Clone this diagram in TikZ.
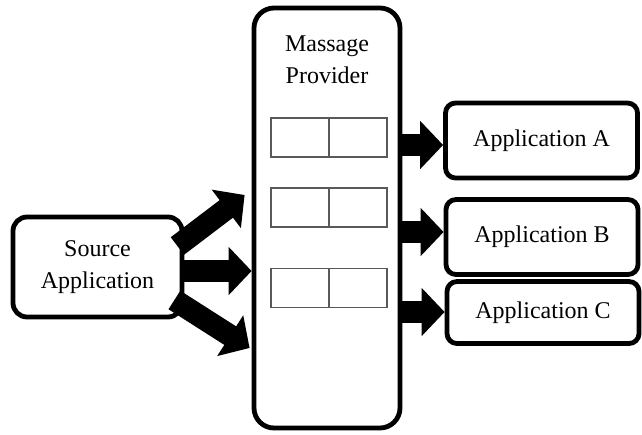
\documentclass[tikz,border=0pt]{standalone}
\usepackage{fontspec}
\setmainfont{Liberation Serif}
\usepackage{tikz}
\usetikzlibrary{arrows.meta}

\begin{document}
\begin{tikzpicture}[x=0.5pt,y=-0.5pt]
            \tikzset{
                app_box/.style={draw, shape = rectangle, rounded corners=5pt, line width=2.4pt, minimum width=96pt, minimum height=37.5pt, inner sep=0pt, font=\fontsize{12}{16}\selectfont},
                cell/.style={draw=black!65, shape = rectangle, line width=0.6pt, minimum width=29pt, minimum height=19.5pt, inner sep=0pt},
                fat_arrow/.style={line width=11pt, -{Triangle[length=11.5pt, width=23.5pt]}}
            }
            \useasboundingbox (0,0) rectangle (642,434);
            \node[app_box, rounded corners=10pt, minimum width=73pt, minimum height=210pt] (provider) at (327,218) {};
            \node[font=\fontsize{12}{16}\selectfont, align=center] (provider_text) at (327,60) {Massage\\Provider};
            \node[cell] (q1a) at (300,137.5) {};
            \node[cell] (q1b) at (358,137.5) {};
            \node[cell] (q2a) at (300,207.5) {};
            \node[cell] (q2b) at (358,207.5) {};
            \node[cell] (q3a) at (300,288) {};
            \node[cell] (q3b) at (358,288) {};
            \node[app_box, rounded corners=7pt, minimum width=84.5pt, minimum height=50pt, align=center] (source) at (97.5,267) {Source\\Application};
            \node[app_box] (appA) at (541.5,140.5) {Application A};
            \node[app_box] (appB) at (542,237) {Application B};
            \node[app_box, minimum height=31pt] (appC) at (543,312.5) {Application C};
            \draw[fat_arrow] ([shift={(-7,-21)}]source.east) -- ([shift={(-7,-23)}]provider.west);
            \draw[fat_arrow] ([shift={(0,4)}]source.east) -- ([shift={(0,53)}]provider.west);
            \draw[fat_arrow] ([shift={(-10,33)}]source.east) -- ([shift={(-2,130)}]provider.west);
            \draw[fat_arrow] (provider.east |- 0,145) -- (appA.west |- 0,145);
            \draw[fat_arrow] (provider.east |- 0,232) -- (appB.west |- 0,232);
            \draw[fat_arrow] (provider.east |- 0,312) -- (appC.west |- 0,312);
        \end{tikzpicture}
\end{document}
